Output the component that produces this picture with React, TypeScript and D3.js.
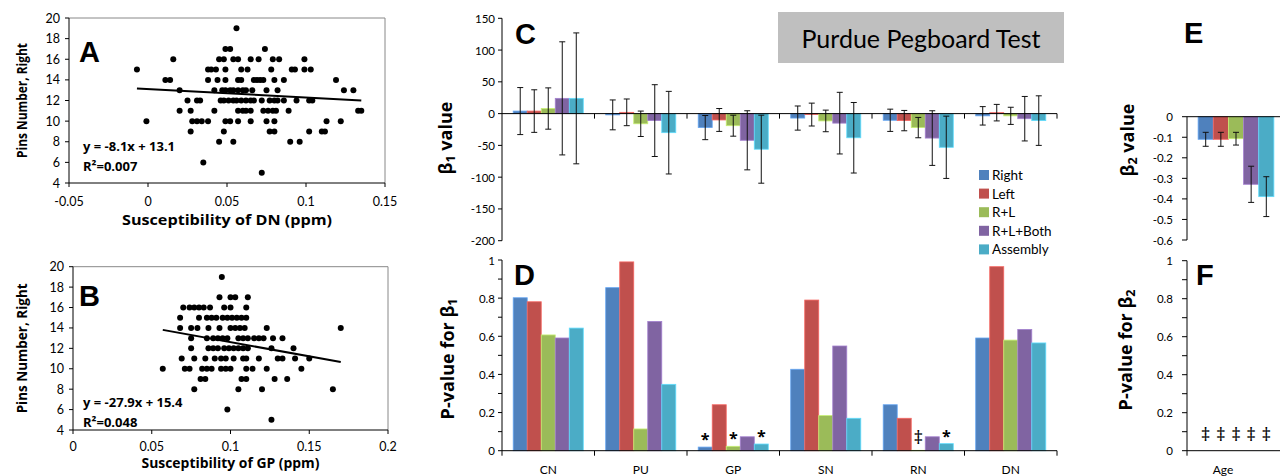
import React from "react";
import * as d3 from "d3";

const W = 1280;
const H = 476;
const FONT = "Lato, 'Open Sans', 'DejaVu Sans', sans-serif";
const BOLD = "'Open Sans', Lato, sans-serif";
const LETTER = "'Liberation Sans', Arial, sans-serif";

const regions = ["CN", "PU", "GP", "SN", "RN", "DN"];
const measures = ["Right", "Left", "R+L", "R+L+Both", "Assembly"];
const colors = ["#4F81BD", "#C0504D", "#9BBB59", "#8064A2", "#4BACC6"];

// beta1 per measure, one value per region (CN, PU, GP, SN, RN, DN)
const beta1Right = [4, -2, -22, -7, -10.5, -3.5];
const beta1Left = [4, 2, -10, -1.5, -11, 1.5];
const beta1RL = [8, -16, -19, -11.5, -22, -3.5];
const beta1Both = [24, -11, -42, -15, -38.5, -8];
const beta1Assembly = [24, -30, -56, -38, -53, -11];

// half length of the error bars
const err1Right = [37, 23.5, 19, 19, 17.5, 14.5];
const err1Left = [33.5, 21, 18, 18, 16, 13];
const err1RL = [32.5, 20, 16.5, 17, 16, 13.5];
const err1Both = [89, 56.5, 46.5, 48.5, 43, 35];
const err1Assembly = [103, 65, 53.5, 55.5, 49, 39];

// p-values for beta1
const p1Right = [0.802, 0.855, 0.019, 0.427, 0.241, 0.591];
const p1Left = [0.781, 0.99, 0.241, 0.79, 0.17, 0.965];
const p1RL = [0.607, 0.114, 0.023, 0.184, 0.002, 0.58];
const p1Both = [0.591, 0.678, 0.073, 0.549, 0.073, 0.636];
const p1Assembly = [0.643, 0.348, 0.035, 0.17, 0.037, 0.565];

const dMarks: [string, string, string][] = [
  ["GP", "Right", "*"],
  ["GP", "R+L", "*"],
  ["GP", "Assembly", "*"],
  ["RN", "R+L", "\u2021"],
  ["RN", "Assembly", "*"],
];

// age effect (beta2), one value per measure
const beta2 = [-0.11, -0.11, -0.107, -0.329, -0.389];
const err2 = [0.034, 0.034, 0.031, 0.088, 0.097];
const p2 = [0.0005, 0.0005, 0.0005, 0.0005, 0.0005];
const fMarks = ["\u2021", "\u2021", "\u2021", "\u2021", "\u2021"];

// scatter A: [pins, susceptibility of DN values]
const dnRows: [number, number[]][] = [
  [19, [0.056]],
  [17, [0.049, 0.052, 0.074]],
  [16, [0.016, 0.045, 0.048, 0.054, 0.057, 0.065, 0.07, 0.079, 0.083, 0.099]],
  [15, [-0.007, 0.038, 0.04, 0.043, 0.049, 0.059, 0.063, 0.078, 0.091, 0.093, 0.099, 0.103]],
  [14, [0.011, 0.014, 0.038, 0.044, 0.049, 0.057, 0.059, 0.067, 0.069, 0.071, 0.073, 0.08, 0.086, 0.119]],
  [13, [0.02, 0.042, 0.047, 0.049, 0.052, 0.054, 0.057, 0.06, 0.062, 0.066, 0.075, 0.082, 0.124, 0.13]],
  [12, [0.025, 0.031, 0.033, 0.046, 0.048, 0.051, 0.054, 0.056, 0.059, 0.062, 0.065, 0.067, 0.072, 0.077, 0.08, 0.082, 0.086, 0.094, 0.102, 0.104]],
  [11, [0.02, 0.027, 0.042, 0.057, 0.06, 0.062, 0.065, 0.073, 0.076, 0.079, 0.081, 0.089, 0.133, 0.135]],
  [10, [-0.001, 0.028, 0.031, 0.034, 0.038, 0.049, 0.052, 0.057, 0.065, 0.075, 0.08, 0.113, 0.122]],
  [9, [0.027, 0.048, 0.077, 0.08, 0.102, 0.11, 0.112]],
  [8, [0.045, 0.054, 0.09, 0.096]],
  [6, [0.035]],
  [5, [0.072]],
];

// scatter B: [pins, susceptibility of GP values]
const gpRows: [number, number[]][] = [
  [19, [0.0945]],
  [17, [0.093, 0.1, 0.103, 0.111]],
  [16, [0.07, 0.074, 0.077, 0.08, 0.083, 0.087, 0.096, 0.1, 0.11]],
  [15, [0.068, 0.08, 0.085, 0.088, 0.091, 0.095, 0.098, 0.101, 0.104, 0.107, 0.11]],
  [14, [0.068, 0.075, 0.079, 0.086, 0.093, 0.1, 0.103, 0.106, 0.109, 0.123, 0.17]],
  [13, [0.075, 0.085, 0.089, 0.092, 0.095, 0.098, 0.105, 0.108, 0.111, 0.115, 0.118, 0.121, 0.127, 0.133]],
  [12, [0.075, 0.086, 0.089, 0.092, 0.096, 0.099, 0.102, 0.105, 0.108, 0.111, 0.126, 0.14]],
  [11, [0.069, 0.077, 0.084, 0.09, 0.094, 0.097, 0.102, 0.108, 0.11, 0.118, 0.13, 0.133, 0.141, 0.15]],
  [10, [0.057, 0.071, 0.074, 0.082, 0.085, 0.088, 0.094, 0.097, 0.1, 0.11, 0.114, 0.123, 0.145]],
  [9, [0.081, 0.084, 0.107, 0.11, 0.128, 0.136]],
  [8, [0.077, 0.105, 0.12, 0.165]],
  [6, [0.098]],
  [5, [0.126]],
];

const fitA = [-8.1, 13.1];
const spanA = [-0.007, 0.135];
const fitB = [-27.9, 15.4];
const spanB = [0.057, 0.17];

const fmt = (v: number) => d3.format("~g")(v).replace("\u2212", "-");

function Scatter({ rows, x, y, fit, span, letter, letterY, eq, r2, eqY, xTitle, xTitleLen, xTitleY, tickDy, yTitle, yTitleLen }) {
  const [x0, x1] = x.range();
  const [yb, yt] = y.range();
  const pts = rows.flatMap(([pins, xs]) => xs.map((v) => [v, pins]));
  const fitLine = d3
    .line<number>()
    .x((v) => x(v))
    .y((v) => y(fit[0] * v + fit[1]));
  return (
    <g>
      <line x1={x0} x2={x1} y1={yt} y2={yt} stroke="#888" />
      <line x1={x1} x2={x1} y1={yt} y2={yb} stroke="#888" />
      <line x1={x0} x2={x0} y1={yt} y2={yb} stroke="#000" />
      <line x1={x0} x2={x1} y1={yb} y2={yb} stroke="#000" />
      {d3.range(4, 21, 2).map((t) => (
        <g key={t}>
          <line x1={x0 - 4} x2={x0} y1={y(t)} y2={y(t)} stroke="#000" />
          <text x={x0 - 9} y={y(t)} textAnchor="end" dominantBaseline="central" fontSize={12.5}>
            {t}
          </text>
        </g>
      ))}
      {x.ticks(4).map((t) => (
        <g key={t}>
          <line x1={x(t)} x2={x(t)} y1={yb} y2={yb + 4} stroke="#000" />
          <text x={x(t)} y={yb + tickDy} textAnchor="middle" fontSize={12.5}>
            {fmt(t)}
          </text>
        </g>
      ))}
      {pts.map(([v, pins], i) => (
        <circle key={i} cx={x(v)} cy={y(pins)} r={3} fill="#000" />
      ))}
      <path d={fitLine(span) || ""} stroke="#000" strokeWidth={2} fill="none" />
      <text x={79} y={letterY} fontSize={29} fontWeight="bold" fontFamily={LETTER}>
        {letter}
      </text>
      <g fontFamily={BOLD} fontWeight="bold" fontSize={13}>
        <text x={83} y={eqY}>{eq}</text>
        <text x={83} y={eqY + 20}>{r2}</text>
      </g>
      <text
        x={(x0 + x1) / 2}
        y={xTitleY}
        textAnchor="middle"
        fontSize={13.5}
        fontWeight="bold"
        fontFamily={BOLD}
        textLength={xTitleLen}
        lengthAdjust="spacingAndGlyphs"
      >
        {xTitle}
      </text>
      <text
        transform={`translate(22,${(yt + yb) / 2}) rotate(-90)`}
        textAnchor="middle"
        dominantBaseline="central"
        fontSize={13.5}
        fontWeight="bold"
        fontFamily={BOLD}
        textLength={yTitleLen}
        lengthAdjust="spacingAndGlyphs"
      >
        {yTitle}
      </text>
    </g>
  );
}

export default function App() {
  const beta1 = [beta1Right, beta1Left, beta1RL, beta1Both, beta1Assembly];
  const err1 = [err1Right, err1Left, err1RL, err1Both, err1Assembly];
  const p1 = [p1Right, p1Left, p1RL, p1Both, p1Assembly];

  const xA = d3.scaleLinear().domain([-0.05, 0.15]).range([69, 385]);
  const yA = d3.scaleLinear().domain([4, 20]).range([183, 18]);
  const xB = d3.scaleLinear().domain([0, 0.2]).range([73, 388]);
  const yB = d3.scaleLinear().domain([4, 20]).range([430, 266.7]);

  const xCat = d3.scaleBand<string>().domain(regions).range([502, 1057]);
  const xMeas = d3.scaleBand<string>().domain(measures).range([0, xCat.bandwidth()]).paddingOuter(0.8);
  const yC = d3.scaleLinear().domain([-200, 150]).range([240.7, 18.3]);
  const yD = d3.scaleLinear().domain([0, 1]).range([450.7, 260]);

  const xAge = d3.scaleBand<string>().domain(["Age"]).range([1186, 1286]);
  const xMeasE = d3.scaleBand<string>().domain(measures).range([0, xAge.bandwidth()]).paddingOuter(0.8);
  const yE = d3.scaleLinear().domain([-0.6, 0]).range([240, 116.7]);
  const yF = d3.scaleLinear().domain([0, 1]).range([450.7, 260.7]);

  const bw = xMeas.bandwidth();
  const bwE = xMeasE.bandwidth();
  const axE = 1187;
  const tenths = d3.range(0, 11).map((i) => i / 10);
  const edge = (c: string) => d3.color(c)!.brighter(0.7).toString();

  return (
    <svg
      width={W}
      height={H}
      fontFamily={FONT}
      style={{ position: "absolute", left: 0, top: 0, background: "#fff" }}
    >
      <Scatter
        rows={dnRows}
        x={xA}
        y={yA}
        fit={fitA}
        span={spanA}
        letter="A"
        letterY={62}
        eq="y = -8.1x + 13.1"
        r2={"R\u00b2=0.007"}
        eqY={151}
        xTitle="Susceptibility of DN (ppm)"
        xTitleLen={210}
        xTitleY={225}
        tickDy={23}
        yTitle="Pins Number, Right"
        yTitleLen={115}
      />
      <Scatter
        rows={gpRows}
        x={xB}
        y={yB}
        fit={fitB}
        span={spanB}
        letter="B"
        letterY={306}
        eq="y = -27.9x + 15.4"
        r2={"R\u00b2=0.048"}
        eqY={407}
        xTitle="Susceptibility of GP (ppm)"
        xTitleLen={178}
        xTitleY={468}
        tickDy={21}
        yTitle="Pins Number, Right"
        yTitleLen={130}
      />

      {/* C: beta1 */}
      <g>
        {beta1.map((vals, m) =>
          regions.map((r, i) => {
            const v = vals[i];
            return (
              <rect
                key={`${m}-${r}`}
                x={xCat(r)! + xMeas(measures[m])!}
                y={Math.min(yC(v), yC(0))}
                width={bw}
                height={Math.abs(yC(v) - yC(0))}
                fill={colors[m]}
                stroke={edge(colors[m])}
                strokeWidth={0.8}
              />
            );
          })
        )}
        {beta1.map((vals, m) =>
          regions.map((r, i) => {
            const v = vals[i];
            const e = err1[m][i];
            const c = xCat(r)! + xMeas(measures[m])! + bw / 2;
            return (
              <g key={`e${m}-${r}`} stroke="#111" strokeWidth={1}>
                <line x1={c} x2={c} y1={yC(v + e)} y2={yC(v - e)} />
                <line x1={c - 3} x2={c + 3} y1={yC(v + e)} y2={yC(v + e)} />
                <line x1={c - 3} x2={c + 3} y1={yC(v - e)} y2={yC(v - e)} />
              </g>
            );
          })
        )}
        <line x1={502} x2={502} y1={yC(150)} y2={yC(-200)} stroke="#000" />
        <line x1={502} x2={1057} y1={yC(0)} y2={yC(0)} stroke="#000" />
        {regions.map((r) => (
          <line key={r} x1={xCat(r)! + xCat.bandwidth()} x2={xCat(r)! + xCat.bandwidth()} y1={yC(0)} y2={yC(0) + 5} stroke="#000" />
        ))}
        {d3.range(-200, 151, 50).map((t) => (
          <g key={t}>
            <line x1={498} x2={502} y1={yC(t)} y2={yC(t)} stroke="#000" />
            <text x={495} y={yC(t)} textAnchor="end" dominantBaseline="central" fontSize={11.5}>
              {fmt(t)}
            </text>
          </g>
        ))}
        <text x={515} y={44} fontSize={29} fontWeight="bold" fontFamily={LETTER}>
          C
        </text>
        <text transform="translate(445,138) rotate(-90)" textAnchor="middle" dominantBaseline="central" fontSize={18} fontWeight="bold" fontFamily={BOLD}>
          β<tspan dy={5} fontSize={12.5}>1</tspan>
          <tspan dy={-5}> value</tspan>
        </text>
      </g>

      {/* D: p-values for beta1 */}
      <g>
        {p1.map((vals, m) =>
          regions.map((r, i) => (
            <rect
              key={`${m}-${r}`}
              x={xCat(r)! + xMeas(measures[m])!}
              y={yD(vals[i])}
              width={bw}
              height={yD(0) - yD(vals[i])}
              fill={colors[m]}
              stroke={edge(colors[m])}
              strokeWidth={0.8}
            />
          ))
        )}
        {dMarks.map(([r, ms, s]) => {
          const m = measures.indexOf(ms);
          const i = regions.indexOf(r);
          const top = yD(p1[m][i]);
          return (
            <text
              key={`${r}${ms}`}
              x={xCat(r)! + xMeas(ms)! + bw / 2}
              y={s === "*" ? top - 2 : top - 6}
              textAnchor="middle"
              fontSize={s === "*" ? 16 : 19}
              fontWeight={s === "*" ? "bold" : "normal"}
              fontFamily={BOLD}
            >
              {s}
            </text>
          );
        })}
        <line x1={502} x2={502} y1={yD(1)} y2={yD(0)} stroke="#000" />
        <line x1={502} x2={1057} y1={yD(0)} y2={yD(0)} stroke="#000" />
        {[502, ...regions.map((r) => xCat(r)! + xCat.bandwidth())].map((b) => (
          <line key={b} x1={b} x2={b} y1={yD(0)} y2={yD(0) + 5} stroke="#000" />
        ))}
        {regions.map((r) => (
          <text key={r} x={xCat(r)! + xCat.bandwidth() / 2} y={474} textAnchor="middle" fontSize={12}>
            {r}
          </text>
        ))}
        {tenths.map((t, i) => (
          <g key={i}>
            <line x1={498} x2={502} y1={yD(t)} y2={yD(t)} stroke="#000" />
            {i % 2 === 0 && (
              <text x={495} y={yD(t)} textAnchor="end" dominantBaseline="central" fontSize={11.5}>
                {fmt(t)}
              </text>
            )}
          </g>
        ))}
        <text x={514} y={285} fontSize={29} fontWeight="bold" fontFamily={LETTER}>
          D
        </text>
        <text transform="translate(447,359) rotate(-90)" textAnchor="middle" dominantBaseline="central" fontSize={18} fontWeight="bold" fontFamily={BOLD}>
          P-value for β<tspan dy={5} fontSize={12.5}>1</tspan>
        </text>
      </g>

      {/* E: beta2 */}
      <g>
        {beta2.map((v, m) => {
          const bx = xAge("Age")! + xMeasE(measures[m])!;
          const c = bx + bwE / 2;
          const e = err2[m];
          return (
            <g key={m}>
              <rect
                x={bx}
                y={yE(0)}
                width={bwE}
                height={yE(v) - yE(0)}
                fill={colors[m]}
                stroke={edge(colors[m])}
                strokeWidth={0.8}
              />
              <g stroke="#111">
                <line x1={c} x2={c} y1={yE(v + e)} y2={yE(v - e)} />
                <line x1={c - 3} x2={c + 3} y1={yE(v + e)} y2={yE(v + e)} />
                <line x1={c - 3} x2={c + 3} y1={yE(v - e)} y2={yE(v - e)} />
              </g>
            </g>
          );
        })}
        <line x1={axE} x2={axE} y1={yE(0)} y2={yE(-0.6)} stroke="#000" />
        <line x1={axE} x2={W} y1={yE(0)} y2={yE(0)} stroke="#000" />
        {d3.range(0, 7).map((i) => {
          const t = i === 0 ? 0 : -i / 10;
          return (
            <g key={i}>
              <line x1={axE - 5} x2={axE} y1={yE(t)} y2={yE(t)} stroke="#000" />
              <text x={1173} y={yE(t)} textAnchor="end" dominantBaseline="central" fontSize={11.5}>
                {fmt(t)}
              </text>
            </g>
          );
        })}
        <text x={1184} y={43} fontSize={29} fontWeight="bold" fontFamily={LETTER}>
          E
        </text>
        <text transform="translate(1127,140) rotate(-90)" textAnchor="middle" dominantBaseline="central" fontSize={18} fontWeight="bold" fontFamily={BOLD}>
          β<tspan dy={5} fontSize={12.5}>2</tspan>
          <tspan dy={-5}> value</tspan>
        </text>
      </g>

      {/* F: p-values for beta2 */}
      <g>
        {p2.map((v, m) => {
          const bx = xAge("Age")! + xMeasE(measures[m])!;
          return (
            <g key={m}>
              <rect x={bx} y={yF(v)} width={bwE} height={yF(0) - yF(v)} fill={colors[m]} />
              <text x={bx + bwE / 2} y={yF(v) - 10} textAnchor="middle" fontSize={19} fontFamily={BOLD}>
                {fMarks[m]}
              </text>
            </g>
          );
        })}
        <line x1={axE} x2={axE} y1={yF(1)} y2={yF(0)} stroke="#000" />
        <line x1={axE} x2={W} y1={yF(0)} y2={yF(0)} stroke="#000" />
        <line x1={axE} x2={axE} y1={yF(0)} y2={yF(0) + 5} stroke="#000" />
        {tenths.map((t, i) => (
          <g key={i}>
            <line x1={axE - 5} x2={axE} y1={yF(t)} y2={yF(t)} stroke="#000" />
            {i % 2 === 0 && (
              <text x={1173} y={yF(t)} textAnchor="end" dominantBaseline="central" fontSize={11.5}>
                {fmt(t)}
              </text>
            )}
          </g>
        ))}
        <text x={xAge("Age")! + xAge.bandwidth() / 2 - 13} y={474} textAnchor="middle" fontSize={12}>
          Age
        </text>
        <text x={1196} y={285} fontSize={29} fontWeight="bold" fontFamily={LETTER}>
          F
        </text>
        <text transform="translate(1125,350) rotate(-90)" textAnchor="middle" dominantBaseline="central" fontSize={18} fontWeight="bold" fontFamily={BOLD}>
          P-value for β<tspan dy={5} fontSize={12.5}>2</tspan>
        </text>
      </g>

      {/* title box */}
      <rect x={778} y={12} width={286} height={51} fill="#bfbfbf" />
      <text x={921} y={38} textAnchor="middle" dominantBaseline="central" fontSize={25}>
        Purdue Pegboard Test
      </text>

      {/* legend */}
      {measures.map((m, i) => (
        <g key={m} transform={`translate(979,${175 + i * 18.6})`}>
          <rect x={0} y={-5} width={10} height={10} fill={colors[i]} />
          <text x={13} y={0} dominantBaseline="central" fontSize={13.5}>
            {m}
          </text>
        </g>
      ))}
    </svg>
  );
}
